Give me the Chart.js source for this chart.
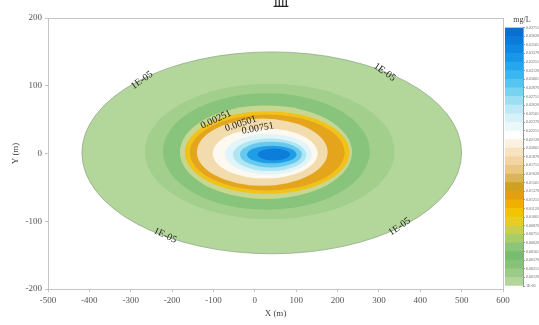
<!DOCTYPE html>
<html>
<head>
<meta charset="utf-8">
<script src="https://cdn.jsdelivr.net/npm/chart.js@4"></script>
<style>
  html, body { margin: 0; padding: 0; background: #fff; overflow: hidden; }
  #wrap { position: relative; width: 539px; height: 325px; }
  #main { position: absolute; left: 0; top: 0; }
  #bar { position: absolute; left: 503px; top: 12px; }
</style>
</head>
<body>
<div id="wrap">
  <canvas id="main" width="539" height="325"></canvas>
  <canvas id="bar" width="36" height="278"></canvas>
</div>
<script>
// Concentration bands, outermost first: centre and semi-axes in metres
const bandColors  = ['#b3d79b', '#a2cf8b', '#88c47c', '#c7d78f', '#f1c21a', '#e4a51c', '#f2dbac', '#fdf8f0', '#e0f5f9', '#b0e5f4', '#68c9ef', '#1f9de8', '#0c7ed9'];
const bandCenterX = [41, 36, 28, 27, 30, 30, 18, 25, 33, 36, 39, 41, 46];
const bandCenterY = [1, 3, 3, 2, 1.5, 1.5, 2, 0, -1, -2, -1.5, -1.5, -1.5];
const bandRadiusX = [459, 302, 250, 208, 199, 187, 158, 127, 105, 89, 75, 60, 39];
const bandRadiusY = [149, 100, 86, 69, 61, 56, 49.5, 37, 30, 24, 19, 13, 9];

// Contour line labels
const labelTexts  = ['1E-05', '1E-05', '1E-05', '1E-05', '0.00251', '0.00501', '0.00751'];
const labelX      = [-273, 314, -217, 350, -94, -34, 7];
const labelY      = [108, 120, -121, -108, 50, 44, 37];
const labelAngle  = [-35, 35, 25, -35, -25, -18, -10];

// Axis ranges
const xTicks = [-500, -400, -300, -200, -100, 0, 100, 200, 300, 400, 500, 600];
const yTicks = [-200, -100, 0, 100, 200];

// Colour scale, lowest level first
const colorbarColors = [
  '#b2d59b', '#9ccb88', '#86c27a', '#78bc6e', '#8cc47a', '#a8cc6a', '#c8cf50', '#eacb20',
  '#f2c400', '#f0b000', '#e0a010', '#d0a020', '#dcb45c', '#ebc784', '#f2d5a0', '#f7e3c0',
  '#fbf1e0', '#ffffff', '#eaf8fa', '#d6f2f8', '#bde9f6', '#9cdef4', '#7ad2f2', '#58c4f0',
  '#3cb6ef', '#28a6ec', '#1a96e6', '#1188e0', '#0c7ad8', '#0a6fd0'
];
const colorbarLabels = [
  '1E-05', '0.00126', '0.00251', '0.00376', '0.00501', '0.00626', '0.00751', '0.00876',
  '0.01001', '0.01126', '0.01251', '0.01376', '0.01501', '0.01626', '0.01751', '0.01876',
  '0.02001', '0.02126', '0.02251', '0.02376', '0.02501', '0.02626', '0.02751', '0.02876',
  '0.03001', '0.03126', '0.03251', '0.03376', '0.03501', '0.03626', '0.03751'
];

const serif = '"Liberation Serif", "DejaVu Serif", serif';

const contourPlugin = {
  id: 'contourBands',
  beforeDatasetsDraw(chart) {
    const { ctx, chartArea: a, scales: { x, y } } = chart;
    ctx.save();
    ctx.beginPath();
    ctx.rect(a.left, a.top, a.right - a.left, a.bottom - a.top);
    ctx.clip();
    for (let i = 0; i < bandColors.length; i++) {
      const cx = x.getPixelForValue(bandCenterX[i]);
      const cy = y.getPixelForValue(bandCenterY[i]);
      const rx = Math.abs(x.getPixelForValue(bandCenterX[i] + bandRadiusX[i]) - cx);
      const ry = Math.abs(y.getPixelForValue(bandCenterY[i] + bandRadiusY[i]) - cy);
      ctx.beginPath();
      ctx.ellipse(cx, cy, rx, ry, 0, 0, Math.PI * 2);
      ctx.fillStyle = bandColors[i];
      ctx.fill();
      if (i === 0) {
        ctx.strokeStyle = 'rgba(140,160,130,0.7)';
        ctx.lineWidth = 1;
        ctx.stroke();
      }
    }
    ctx.restore();
  },
  afterDatasetsDraw(chart) {
    const { ctx, scales: { x, y } } = chart;
    ctx.save();
    ctx.font = '10px ' + serif;
    ctx.fillStyle = '#222';
    ctx.textAlign = 'center';
    ctx.textBaseline = 'middle';
    for (let i = 0; i < labelTexts.length; i++) {
      ctx.save();
      ctx.translate(x.getPixelForValue(labelX[i]), y.getPixelForValue(labelY[i]));
      ctx.rotate(labelAngle[i] * Math.PI / 180);
      ctx.fillText(labelTexts[i], 0, 0);
      ctx.restore();
    }
    ctx.restore();
  },
  afterDraw(chart) {
    const { ctx, chartArea: a } = chart;
    ctx.save();
    ctx.strokeStyle = '#c4c4c4';
    ctx.lineWidth = 1;
    ctx.strokeRect(a.left + 0.5, a.top + 0.5, a.right - a.left, a.bottom - a.top);
    // heading, partly above the page edge
    ctx.font = '16px "Noto Sans CJK SC", sans-serif';
    ctx.fillStyle = '#222';
    ctx.textAlign = 'center';
    ctx.textBaseline = 'bottom';
    ctx.fillText('皿', 281, 8);
    ctx.restore();
  }
};

new Chart(document.getElementById('main'), {
  type: 'scatter',
  data: { datasets: [{ data: [], pointRadius: 0 }] },
  options: {
    responsive: false,
    animation: false,
    devicePixelRatio: 1,
    layout: { padding: { top: 18, right: 36, left: 0, bottom: 0 } },
    plugins: { legend: { display: false }, tooltip: { enabled: false } },
    scales: {
      x: {
        type: 'linear', min: xTicks[0], max: xTicks[xTicks.length - 1],
        afterBuildTicks: s => { s.ticks = xTicks.map(v => ({ value: v })); },
        afterFit: s => { s.height = 36; },
        ticks: { font: { family: serif, size: 9 }, color: '#555', padding: 3, maxRotation: 0 },
        grid: { drawOnChartArea: false, tickLength: 3, color: '#c4c4c4' },
        border: { color: '#c4c4c4' },
        title: { display: true, text: 'X (m)', font: { family: serif, size: 9 }, color: '#444', padding: { top: 2, bottom: 6 } }
      },
      y: {
        type: 'linear', min: yTicks[0], max: yTicks[yTicks.length - 1],
        afterBuildTicks: s => { s.ticks = yTicks.map(v => ({ value: v })); },
        afterFit: s => { s.width = 48; },
        ticks: { font: { family: serif, size: 9 }, color: '#555', padding: 3 },
        grid: { drawOnChartArea: false, tickLength: 3, color: '#c4c4c4' },
        border: { color: '#c4c4c4' },
        title: { display: true, text: 'Y (m)', font: { family: serif, size: 9 }, color: '#444', padding: { top: 10, bottom: 10 } }
      }
    }
  },
  plugins: [contourPlugin]
});

new Chart(document.getElementById('bar'), {
  type: 'bar',
  data: {
    labels: [''],
    datasets: colorbarColors.map(c => ({
      data: [1], backgroundColor: c, borderWidth: 0,
      barPercentage: 1, categoryPercentage: 1
    }))
  },
  options: {
    responsive: false,
    animation: false,
    devicePixelRatio: 1,
    layout: { padding: { top: 3, bottom: 4, left: 2, right: 0 } },
    plugins: {
      legend: { display: false },
      tooltip: { enabled: false },
      title: { display: true, text: 'mg/L', font: { family: serif, size: 8, weight: 'normal' }, color: '#444', padding: { top: 0, bottom: 3 } }
    },
    scales: {
      x: { stacked: true, display: false },
      y: {
        stacked: true, position: 'right', min: 0, max: colorbarColors.length,
        afterBuildTicks: s => { s.ticks = colorbarLabels.map((t, i) => ({ value: i })); },
        afterFit: s => { s.width = 16; },
        ticks: { font: { family: serif, size: 4 }, color: '#666', padding: 1, autoSkip: false,
                 callback: v => colorbarLabels[v] },
        grid: { drawOnChartArea: false, tickLength: 2, color: '#999' },
        border: { color: '#999' }
      }
    }
  }
});
</script>
</body>
</html>
